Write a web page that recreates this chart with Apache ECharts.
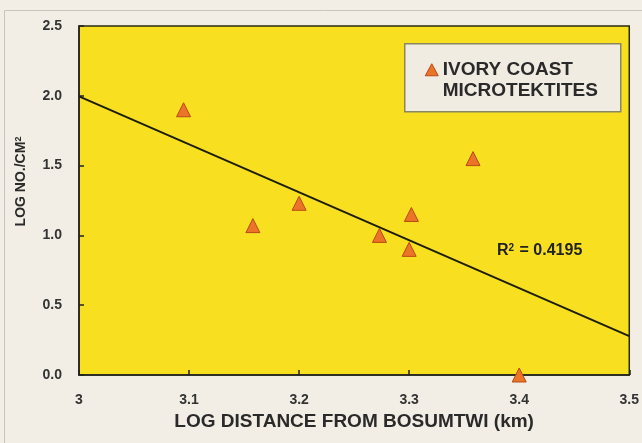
<!DOCTYPE html>
<html><head><meta charset="utf-8">
<script src="https://cdn.jsdelivr.net/npm/echarts@6/dist/echarts.min.js"></script>
<style>html,body{margin:0;padding:0;background:#f2eee5;}#c{width:642px;height:443px;}</style>
</head><body><div id="c"></div>
<script>
const xTicks = [3, 3.1, 3.2, 3.3, 3.4, 3.5];
const yTicks = [0, 0.5, 1.0, 1.5, 2.0, 2.5];
const logDistance = [3.095, 3.158, 3.200, 3.273, 3.300, 3.302, 3.358, 3.400];
const logNumber   = [1.90, 1.07, 1.23, 1.00, 0.90, 1.15, 1.55, 0.00];
const trendX = [3.0, 3.5];
const trendY = [1.996, 0.278];
const legendLines = ['IVORY COAST', 'MICROTEKTITES'];
const seriesName = legendLines.join(' ');
const rSquaredValue = '0.4195';

const chart = echarts.init(document.getElementById('c'), null, {renderer:'canvas'});
const font = 'Arial, "Liberation Sans", sans-serif';
const ink = '#2a2a2a';
chart.setOption({
  backgroundColor: '#f2eee5',
  animation: false,
  grid: {left: 79, right: 11, top: 26, bottom: 68, show: true, backgroundColor: '#f8e021', borderColor: '#2a2a10', borderWidth: 1.5},
  xAxis: {
    type: 'value', min: xTicks[0], max: xTicks[xTicks.length-1], interval: 0.1,
    name: 'LOG DISTANCE FROM BOSUMTWI (km)', nameLocation: 'middle', nameGap: 35,
    nameTextStyle: {fontFamily: font, fontWeight: 'bold', fontSize: 19, color: ink},
    axisLine: {lineStyle: {color: '#222', width: 1.5}},
    axisTick: {inside: true, length: 5, lineStyle: {color: '#222', width: 1.5}},
    axisLabel: {margin: 18, fontFamily: font, fontWeight: 'bold', fontSize: 14, color: '#333',
      formatter: v => { const t = xTicks.find(k => Math.abs(k - v) < 1e-6); return t === undefined ? '' : String(t); }},
    splitLine: {show: false}
  },
  yAxis: {
    type: 'value', min: yTicks[0], max: yTicks[yTicks.length-1], interval: 0.5,
    name: 'LOG NO./CM{sup|2}', nameLocation: 'middle', nameGap: 50,
    nameTextStyle: {fontFamily: font, fontWeight: 'bold', fontSize: 14, color: ink, padding: [0, 0, 0, 38],
      rich: {sup: {fontFamily: font, fontWeight: 'bold', fontSize: 9, color: ink, verticalAlign: 'top', padding: [0, 0, 6, 0]}}},
    axisLine: {lineStyle: {color: '#222', width: 1.5}},
    axisTick: {inside: true, length: 5, lineStyle: {color: '#222', width: 1.5}},
    axisLabel: {margin: 17, fontFamily: font, fontWeight: 'bold', fontSize: 14, color: '#333',
      formatter: v => v.toFixed(1)},
    splitLine: {show: false}
  },
  series: [
    {
      name: 'trend', type: 'line', data: trendX.map((x, i) => [x, trendY[i]]),
      showSymbol: false, lineStyle: {color: '#1e1e10', width: 2}, silent: true, z: 2
    },
    {
      name: seriesName, type: 'scatter', symbol: 'triangle', symbolSize: 14,
      data: logDistance.map((x, i) => [x, logNumber[i]]),
      itemStyle: {color: '#ec7428', borderColor: '#b84a14', borderWidth: 1, opacity: 1}, z: 3
    }
  ],
  graphic: [
    {type: 'rect', left: 2, top: 8, shape: {width: 650, height: 450}, style: {fill: 'none', stroke: '#c8c4bc', lineWidth: 1}, z: -1},
    {type: 'group', left: 404, top: 43, z: 10, children: [
      {type: 'rect', shape: {x: 0, y: 0, width: 216, height: 68}, style: {fill: '#f1ece2', stroke: '#8a8660', lineWidth: 1.5}},
      {type: 'polygon', shape: {points: [[27, 20], [33.5, 32], [20.5, 32]]}, style: {fill: '#ec7428', stroke: '#b84a14', lineWidth: 1}},
      {type: 'text', x: 38, y: 15, style: {text: legendLines.join('\n'), fontFamily: font, fontWeight: 'bold', fontSize: 19, lineHeight: 21.5, fill: ink}}
    ]},
    {type: 'text', left: 497, top: 243, z: 10, style: {
      text: 'R{sup|2} = ' + rSquaredValue, fontFamily: font, fontWeight: 'bold', fontSize: 16, fill: '#222',
      rich: {sup: {fontFamily: font, fontWeight: 'bold', fontSize: 10, fill: '#222', verticalAlign: 'top', padding: [0, 1, 6, 0]}}}}
  ]
});
</script></body></html>
